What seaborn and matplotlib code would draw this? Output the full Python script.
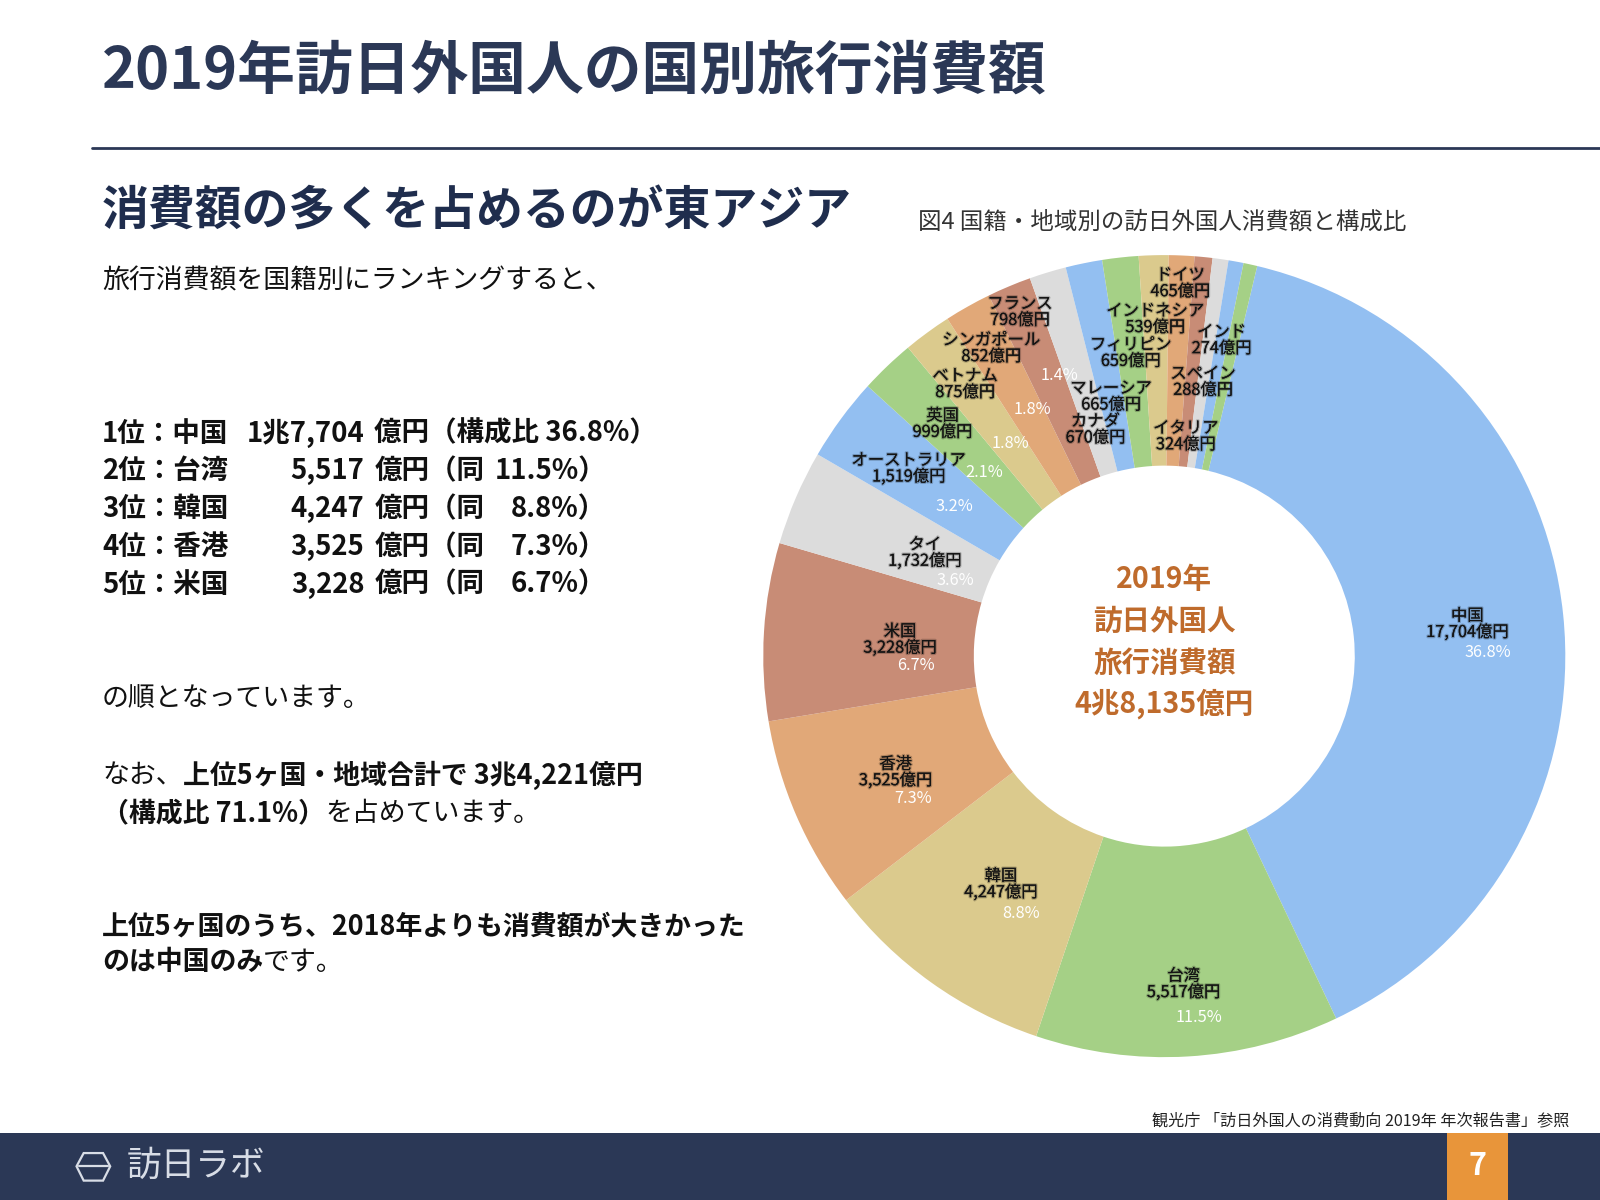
import numpy as np
import pandas as pd
import seaborn as sns
import matplotlib
matplotlib.use("Agg")
import matplotlib.pyplot as plt
from matplotlib import patheffects as pe
from matplotlib.patches import Rectangle, Polygon
from matplotlib.lines import Line2D

# ---------------- data ----------------
countries = ['中国', '台湾', '韓国', '香港', '米国', 'タイ', 'オーストラリア', '英国',
             'ベトナム', 'シンガポール', 'フランス', 'カナダ', 'マレーシア', 'フィリピン',
             'インドネシア', 'ドイツ', 'イタリア', 'スペイン', 'インド', 'ロシア']
spend = [17704, 5517, 4247, 3525, 3228, 1732, 1519, 999, 875, 852, 798, 670, 665,
         659, 539, 465, 324, 288, 274, 250]
labelled = countries[:19]
pct_shown = ['中国', '台湾', '韓国', '香港', '米国', 'タイ', 'オーストラリア', '英国',
             'ベトナム', 'シンガポール', 'カナダ']
total_all = 48135
year = 2019
top_n = 5

# ---------------- style ----------------
sns.set_theme(style="white")
plt.rcParams['font.family'] = ['Noto Sans CJK JP', 'DejaVu Sans']

palette = sns.color_palette(['#93BFF1', '#A5D086', '#DBCA8D', '#E1A878', '#C88C76', '#DCDCDC'])
slice_colors = [palette[i % 6] for i in range(len(countries))]

NAVY = '#2B3856'
ORANGE_TXT = '#BF6B2C'

W, H = 1568.0, 1176.0
def fx(x): return x / W
def fy(y): return 1 - y / H
def pt(px): return px * (1600 / W) * 0.72

fig = plt.figure(figsize=(16, 12), dpi=100)
fig.patch.set_facecolor('white')
renderer = fig.canvas.get_renderer()

def oku(v):
    if v >= 10000:
        return f"{v // 10000}兆{v % 10000:,}"
    return f"{v:,}"

def rich(x, y, parts, size, color='#111111'):
    cur = fx(x)
    for s, w in parts:
        t = fig.text(cur, fy(y), s, fontsize=size, fontweight=w, color=color,
                     ha='left', va='center')
        bb = t.get_window_extent(renderer)
        cur = bb.x1 / fig.bbox.width

# ---------------- header ----------------
fig.text(fx(100), fy(70), f"{year}年訪日外国人の国別旅行消費額", fontsize=pt(56.6),
         fontweight='bold', color=NAVY, ha='left', va='center')
fig.add_artist(Line2D([fx(90), 1.0], [fy(145), fy(145)], color=NAVY, lw=2,
                      transform=fig.transFigure))
fig.text(fx(100), fy(207), "消費額の多くを占めるのが東アジア", fontsize=pt(46),
         fontweight='bold', color='#1F2D4D', ha='left', va='center')
fig.text(fx(900), fy(218), "図4 国籍・地域別の訪日外国人消費額と構成比", fontsize=pt(23),
         color='#333333', ha='left', va='center')

# ---------------- left text ----------------
BODY = pt(26.4)
fig.text(fx(100), fy(275), "旅行消費額を国籍別にランキングすると、", fontsize=BODY,
         color='#111111', ha='left', va='center')

row_y = [425, 462, 499, 536, 573]
RANK = pt(27)
for i in range(top_n):
    v = spend[i]
    share = f"{v / total_all * 100:.1f}%"
    y = fy(row_y[i])
    fig.text(fx(100), y, f"{i + 1}位：{countries[i]}", fontsize=RANK, fontweight='bold',
             color='#111111', ha='left', va='center')
    fig.text(fx(357), y, oku(v), fontsize=RANK, fontweight='bold',
             color='#111111', ha='right', va='center')
    if i == 0:
        fig.text(fx(367), y, f"億円（構成比 {share}）", fontsize=RANK, fontweight='bold',
                 color='#111111', ha='left', va='center')
    else:
        fig.text(fx(367), y, "億円（同", fontsize=RANK, fontweight='bold',
                 color='#111111', ha='left', va='center')
        fig.text(fx(594), y, f"{share}）", fontsize=RANK, fontweight='bold',
                 color='#111111', ha='right', va='center')

fig.text(fx(100), fy(685), "の順となっています。", fontsize=BODY, color='#111111',
         ha='left', va='center')

top_sum = sum(spend[:top_n])
rich(100, 760, [("なお、", 'normal'),
                (f"上位{top_n}ヶ国・地域合計で {oku(top_sum)}億円", 'bold')], BODY)
rich(100, 797, [(f"（構成比 {top_sum / total_all * 100:.1f}%）", 'bold'),
                ("を占めています。", 'normal')], BODY)
rich(100, 908, [(f"上位{top_n}ヶ国のうち、{year - 1}年よりも消費額が大きかった", 'bold')], BODY)
rich(100, 943, [("のは中国のみ", 'bold'), ("です。", 'normal')], BODY)

# ---------------- donut ----------------
CX, CY, R = 1141, 643, 393
ax = fig.add_axes([fx(CX - R), fy(CY + R), 2 * R / W, 2 * R / H])
wedges, _ = ax.pie(spend, colors=slice_colors, startangle=76.6, counterclock=False,
                   radius=1.0, wedgeprops=dict(width=0.525, linewidth=0))
ax.set_xlim(-1, 1)
ax.set_ylim(-1, 1)
ax.set_aspect('equal')
ax.axis('off')

name_r = {'中国': .76, '台湾': .82, '韓国': .70, '香港': .73, '米国': .66, 'タイ': .65,
          'オーストラリア': .79, '英国': .80, 'ベトナム': .84, 'シンガポール': .88,
          'フランス': .93, 'カナダ': .59, 'マレーシア': .66, 'フィリピン': .76,
          'インドネシア': .84, 'ドイツ': .93, 'イタリア': .55, 'スペイン': .69, 'インド': .80}
pct_off = {'中国': (20, 28), '台湾': (15, 32), '韓国': (20, 28), '香港': (17, 25),
           '米国': (16, 25), 'タイ': (30, 27), 'オーストラリア': (45, 37), '英国': (41, 47),
           'ベトナム': (44, 58), 'シンガポール': (40, 60), 'カナダ': (-35, -53)}

shadow = [pe.withStroke(linewidth=1.8, foreground=(0, 0, 0, 0.22))]
LBL = pt(16)
for w, name, v in zip(wedges, countries, spend):
    if name not in labelled:
        continue
    mid = np.deg2rad((w.theta1 + w.theta2) / 2)
    r = name_r[name]
    x, y = r * np.cos(mid), r * np.sin(mid)
    ax.text(x, y, f"{name}\n{v:,}億円", fontsize=LBL, color='#141414', ha='center',
            va='center', linespacing=0.95, path_effects=shadow)
    if name in pct_shown:
        dx, dy = pct_off[name]
        ax.annotate(f"{v / total_all * 100:.1f}%", xy=(x, y),
                    xytext=(pt(dx), -pt(dy)), textcoords='offset points',
                    fontsize=LBL, color='white', ha='center', va='center')

center_lines = [f"{year}年", "訪日外国人", "旅行消費額", f"{oku(total_all)}億円"]
for txt, yy in zip(center_lines, [567, 608, 650, 690]):
    fig.text(fx(CX), fy(yy), txt, fontsize=pt(28), fontweight='bold', color=ORANGE_TXT,
             ha='center', va='center')

# ---------------- footer ----------------
fig.text(fx(1538), fy(1098), f"観光庁 「訪日外国人の消費動向 {year}年 年次報告書」参照",
         fontsize=pt(15.8), color='#222222', ha='right', va='center')
fig.add_artist(Rectangle((0, 0), 1, 66 / H, transform=fig.transFigure,
                         facecolor=NAVY, edgecolor='none'))
fig.add_artist(Rectangle((fx(1418), 0), 60 / W, 66 / H, transform=fig.transFigure,
                         facecolor='#E8953A', edgecolor='none'))
fig.text(fx(1448), fy(1143), "7", fontsize=pt(30), fontweight='bold', color='white',
         ha='center', va='center')
icon = [(75, 1143), (82, 1130), (101, 1130), (108, 1143), (101, 1157), (82, 1157)]
fig.add_artist(Polygon([(fx(a), fy(b)) for a, b in icon], closed=True, fill=False,
                       edgecolor='#D8DDE6', lw=1.6, transform=fig.transFigure))
fig.add_artist(Line2D([fx(77), fx(106)], [fy(1143), fy(1143)], color='#D8DDE6', lw=1.6,
                      transform=fig.transFigure))
fig.text(fx(124), fy(1143), "訪日ラボ", fontsize=pt(34), color='#D8DDE6',
         ha='left', va='center')

fig.savefig("out.png", dpi=100, facecolor='white')
